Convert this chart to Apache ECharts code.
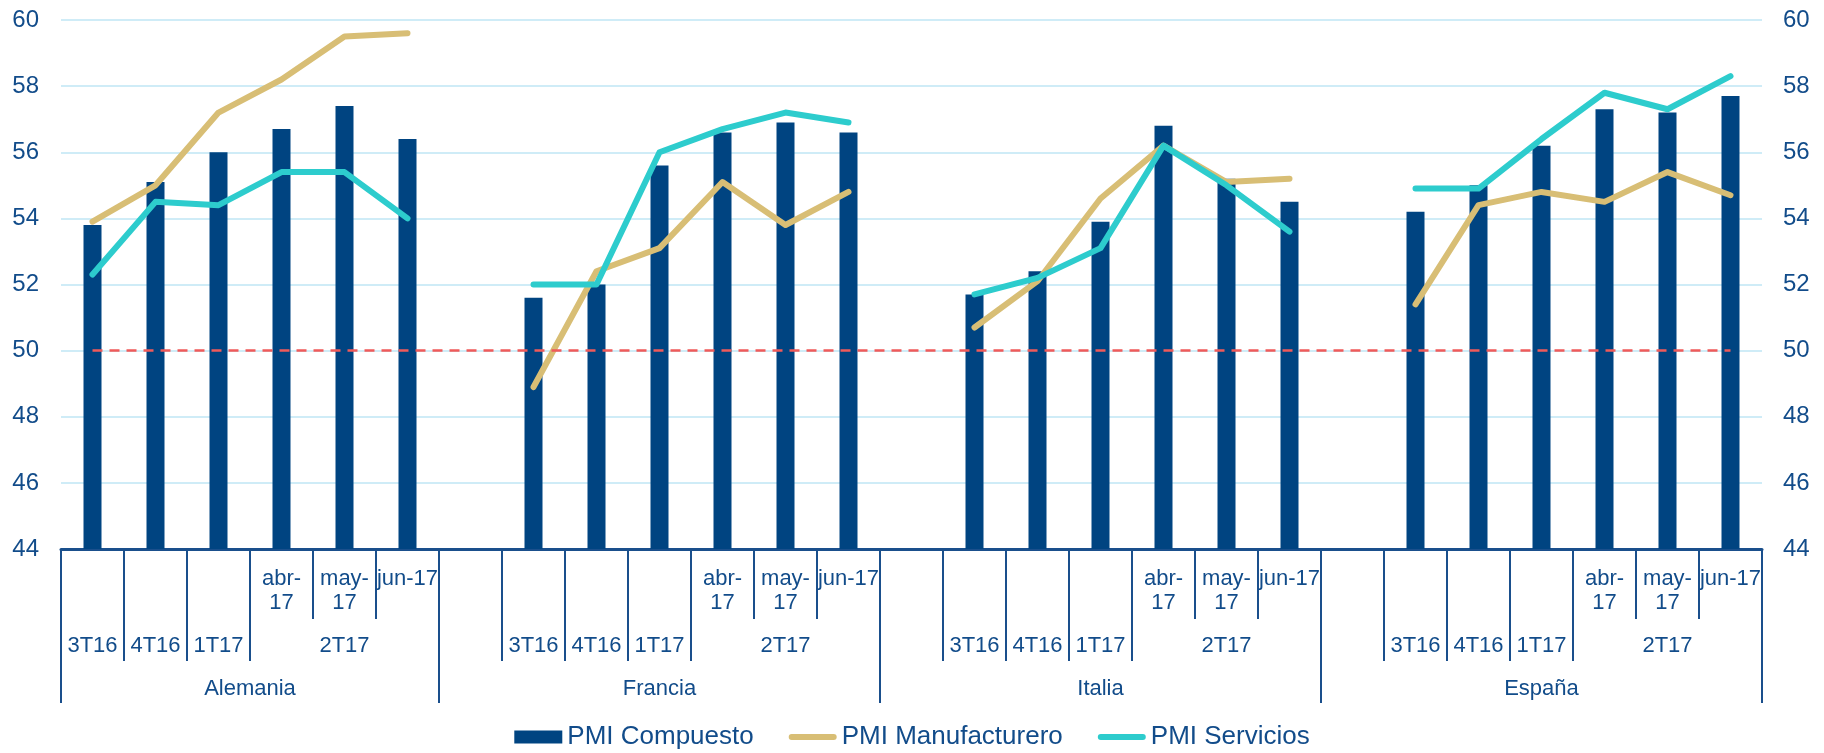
<!DOCTYPE html>
<html>
<head>
<meta charset="utf-8">
<script src="https://cdn.jsdelivr.net/npm/echarts@6/dist/echarts.min.js"></script>
<style>
html, body { margin: 0; padding: 0; background: #fff; }
.chart { width: 1824px; height: 753px; }
</style>
</head>
<body>
<div class="chart" id="myEcharts"></div>
<script>
const countries = ['Alemania', 'Francia', 'Italia', 'España']
const periods = ['3T16', '4T16', '1T17', 'abr-17', 'may-17', 'jun-17']
const quarterLabels = ['3T16', '4T16', '1T17', '2T17']
const monthLabels = ['abr-\n17', 'may-\n17', 'jun-17']
const yTicks = { min: 44, max: 60, interval: 2 }

// one row per country, in the order of periods
const compuesto = [
  53.8, 55.1, 56.0, 56.7, 57.4, 56.4,
  51.6, 52.0, 55.6, 56.6, 56.9, 56.6,
  51.7, 52.4, 53.9, 56.8, 55.2, 54.5,
  54.2, 55.0, 56.2, 57.3, 57.2, 57.7
]
const manufacturero = [
  53.9, 55.0, 57.2, 58.2, 59.5, 59.6,
  48.9, 52.4, 53.1, 55.1, 53.8, 54.8,
  50.7, 52.1, 54.6, 56.2, 55.1, 55.2,
  51.4, 54.4, 54.8, 54.5, 55.4, 54.7
]
const servicios = [
  52.3, 54.5, 54.4, 55.4, 55.4, 54.0,
  52.0, 52.0, 56.0, 56.7, 57.2, 56.9,
  51.7, 52.2, 53.1, 56.2, 55.0, 53.6,
  54.9, 54.9, 56.4, 57.8, 57.3, 58.3
]
const umbral = 50

const textColor = '#124c8a'
const axisColor = '#1a4f8c'
const font = 'Liberation Sans, Arial, sans-serif'
// rounded stroke used as legend swatch for the two lines
const lineIcon = 'path://M3,0 H45 A3,3 0 0 1 45,6 H3 A3,3 0 0 1 3,0 Z'

// slots on the x axis: every country after the first gets an empty slot before it
const slotStart = []
const groupEdges = []
let pos = 0
countries.forEach((c, g) => {
  groupEdges.push(pos)
  if (g > 0) pos++
  slotStart.push(pos)
  pos += periods.length
})
groupEdges.push(pos)
const nSlots = pos

function toSlots (values) {
  const out = new Array(nSlots).fill('-')
  countries.forEach((c, g) => {
    periods.forEach((p, k) => {
      out[slotStart[g] + k] = values[g * periods.length + k]
    })
  })
  return out
}

const slotNames = []
const monthText = []
for (let i = 0; i < nSlots; i++) {
  slotNames.push('s' + i)
  monthText.push('')
}
countries.forEach((c, g) => {
  monthLabels.forEach((m, k) => { monthText[slotStart[g] + 3 + k] = m })
})

// half-slot points (boundaryGap false) for the quarter row and the country row
const halfNames = []
const quarterText = []
const countryText = []
for (let i = 0; i <= 2 * nSlots; i++) {
  halfNames.push('h' + i)
  quarterText.push('')
  countryText.push('')
}
const quarterTicks = new Set()
const groupTicks = new Set()
countries.forEach((c, g) => {
  const s = slotStart[g]
  quarterLabels.forEach((q, k) => {
    const slot = k < 3 ? s + k : s + 4
    quarterText[2 * slot + 1] = q
    quarterTicks.add(2 * (s + k))
  })
  countryText[groupEdges[g] + groupEdges[g + 1]] = c
})
groupEdges.forEach(e => groupTicks.add(2 * e))

const myChart = echarts.init(document.getElementById('myEcharts'))
myChart.setOption({
  animation: false,
  textStyle: { fontFamily: font },
  grid: { left: 61, right: 62, top: 20, bottom: 204 },
  legend: {
    top: 719,
    left: 'center',
    itemGap: 35,
    itemWidth: 48,
    itemHeight: 13,
    textStyle: { fontSize: 26, color: textColor, fontFamily: font },
    data: [
      { name: 'PMI Compuesto', icon: 'rect' },
      { name: 'PMI Manufacturero', icon: lineIcon },
      { name: 'PMI Servicios', icon: lineIcon }
    ]
  },
  xAxis: [
    {
      type: 'category',
      data: slotNames,
      position: 'bottom',
      axisLine: { show: true, lineStyle: { color: axisColor, width: 3 } },
      axisTick: { show: true, interval: 0, length: 70, lineStyle: { color: axisColor, width: 2 } },
      axisLabel: {
        interval: 0,
        margin: 18,
        fontSize: 22,
        lineHeight: 24,
        color: textColor,
        formatter: (v, i) => monthText[i]
      },
      splitLine: { show: false }
    },
    {
      type: 'category',
      data: halfNames,
      boundaryGap: false,
      position: 'bottom',
      axisLine: { show: false },
      axisTick: {
        show: true,
        length: 112,
        interval: (i) => quarterTicks.has(i),
        lineStyle: { color: axisColor, width: 2 }
      },
      axisLabel: {
        interval: 0,
        margin: 85,
        fontSize: 22,
        lineHeight: 24,
        color: textColor,
        formatter: (v, i) => quarterText[i]
      },
      splitLine: { show: false }
    },
    {
      type: 'category',
      data: halfNames,
      boundaryGap: false,
      position: 'bottom',
      axisLine: { show: false },
      axisTick: {
        show: true,
        length: 154,
        interval: (i) => groupTicks.has(i),
        lineStyle: { color: axisColor, width: 2 }
      },
      axisLabel: {
        interval: 0,
        margin: 128,
        fontSize: 22,
        lineHeight: 24,
        color: textColor,
        formatter: (v, i) => countryText[i]
      },
      splitLine: { show: false }
    }
  ],
  yAxis: [
    {
      type: 'value',
      min: yTicks.min,
      max: yTicks.max,
      interval: yTicks.interval,
      axisLine: { show: false },
      axisTick: { show: false },
      axisLabel: { fontSize: 24, color: textColor, margin: 22 },
      splitLine: { lineStyle: { color: '#bfe6f5', width: 1.5 } }
    },
    {
      type: 'value',
      position: 'right',
      min: yTicks.min,
      max: yTicks.max,
      interval: yTicks.interval,
      axisLine: { show: false },
      axisTick: { show: false },
      axisLabel: { fontSize: 24, color: textColor, margin: 21 },
      splitLine: { show: false }
    }
  ],
  series: [
    {
      name: 'PMI Compuesto',
      type: 'bar',
      barWidth: 18,
      itemStyle: { color: '#004481' },
      data: toSlots(compuesto)
    },
    {
      name: 'PMI Manufacturero',
      type: 'line',
      symbol: 'none',
      lineStyle: { color: '#d8be75', width: 6, cap: 'round', join: 'round' },
      itemStyle: { color: '#d8be75' },
      data: toSlots(manufacturero)
    },
    {
      name: 'PMI Servicios',
      type: 'line',
      symbol: 'none',
      lineStyle: { color: '#2dcccd', width: 6, cap: 'round', join: 'round' },
      itemStyle: { color: '#2dcccd' },
      data: toSlots(servicios),
      markLine: {
        silent: true,
        symbol: ['none', 'none'],
        label: { show: false },
        lineStyle: { color: '#f05a5a', type: [10, 7], width: 2.5 },
        data: [[{ coord: [slotNames[0], umbral] }, { coord: [slotNames[nSlots - 1], umbral] }]]
      }
    }
  ]
})
window.addEventListener('resize', () => {
  myChart.resize()
})
</script>
</body>
</html>
